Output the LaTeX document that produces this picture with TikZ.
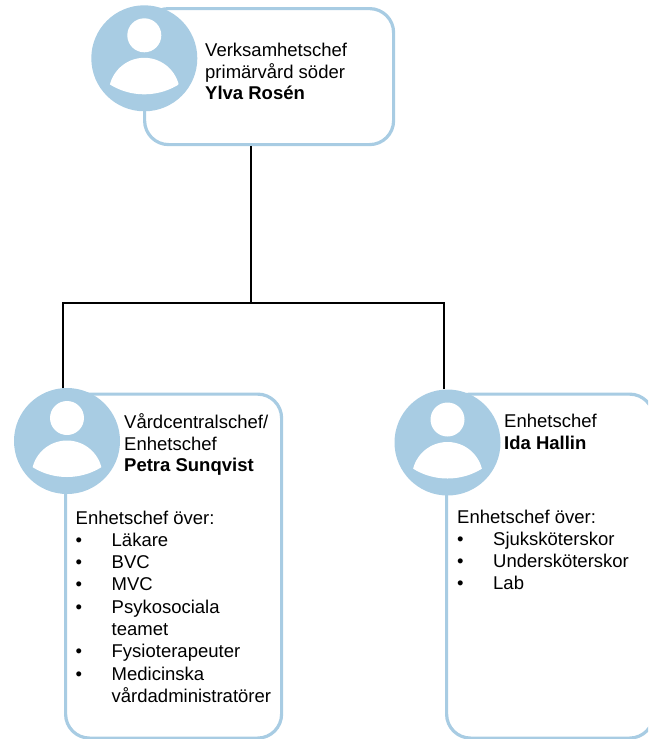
\documentclass[tikz,border=0pt]{standalone}
\usepackage{fontspec}
\setmainfont{Liberation Sans}
\definecolor{avblue}{RGB}{168,204,227}
\tikzset{
  card/.style={draw=avblue, line width=3.2pt, rounded corners=24pt, fill=white, anchor=north west, inner sep=0pt},
  avatar/.style={circle, fill=avblue, minimum size=106pt, inner sep=0pt},
  label/.style={anchor=base west, inner sep=0pt, font=\fontsize{18.5}{21.7}\selectfont},
  listlabel/.style={label, font=\fontsize{18.5}{22.3}\selectfont},
  conn/.style={draw=black, line width=1.6pt}
}
\newcommand\personicon[1]{%
  \begin{scope}[shift={(#1)}]
    \fill[white] (0,-23) circle (17pt);
    \begin{scope}
      \clip (0,-29) circle (65pt);
      \fill[white] (0,35) circle (35.5pt);
    \end{scope}
  \end{scope}}
\newcommand\blt{\makebox[36pt][l]{\textbullet}}
\newcommand\ind{\hspace*{36pt}}
\begin{document}
\begin{tikzpicture}[x=1pt,y=-1pt]
\useasboundingbox (0,0) rectangle (648,739);
\clip (0,0) rectangle (648,739);
% junction coordinates
\coordinate (jT) at (250.7,303);
\coordinate (jL) at (63,303);
\coordinate (jR) at (444,303);
% boxes
\node[card, minimum width=249pt, minimum height=136pt] (boxT) at (143,7) {};
\node[card, minimum width=216pt, minimum height=344pt] (boxL) at (64,392.5) {};
\node[card, minimum width=207pt, minimum height=344pt] (boxR) at (445,392.5) {};
% avatars
\node[avatar] (avT) at (144.3,58.3) {};
\node[avatar] (avL) at (67,441) {};
\node[avatar] (avR) at (447.5,442.5) {};
\personicon{avT}
\personicon{avL}
\personicon{avR}
% connectors
\draw[conn] (boxT.south -| jT) -- (jT);
\draw[conn] (jL |- avL.north) -- (jL) -- (jR) -- (jR |- avR.north);
% texts
\node[label] (tT) at (205,56.5) {\begin{tabular}[t]{@{}l@{}}Verksamhetschef\\primärvård söder\\\textbf{Ylva Rosén}\end{tabular}};
\node[label] (tL) at (124,428.5) {\begin{tabular}[t]{@{}l@{}}Vårdcentralschef/\\Enhetschef\\\textbf{Petra Sunqvist}\end{tabular}};
\node[label] (tR) at (504,427.5) {\begin{tabular}[t]{@{}l@{}}Enhetschef\\\textbf{Ida Hallin}\end{tabular}};
\node[listlabel] (lL) at (75.5,524) {\begin{tabular}[t]{@{}l@{}}Enhetschef över:\\\blt Läkare\\\blt BVC\\\blt MVC\\\blt Psykosociala\\\ind teamet\\\blt Fysioterapeuter\\\blt Medicinska\\\ind vårdadministratörer\end{tabular}};
\node[listlabel] (lR) at (457,523) {\begin{tabular}[t]{@{}l@{}}Enhetschef över:\\\blt Sjuksköterskor\\\blt Undersköterskor\\\blt Lab\end{tabular}};
\end{tikzpicture}
\end{document}
